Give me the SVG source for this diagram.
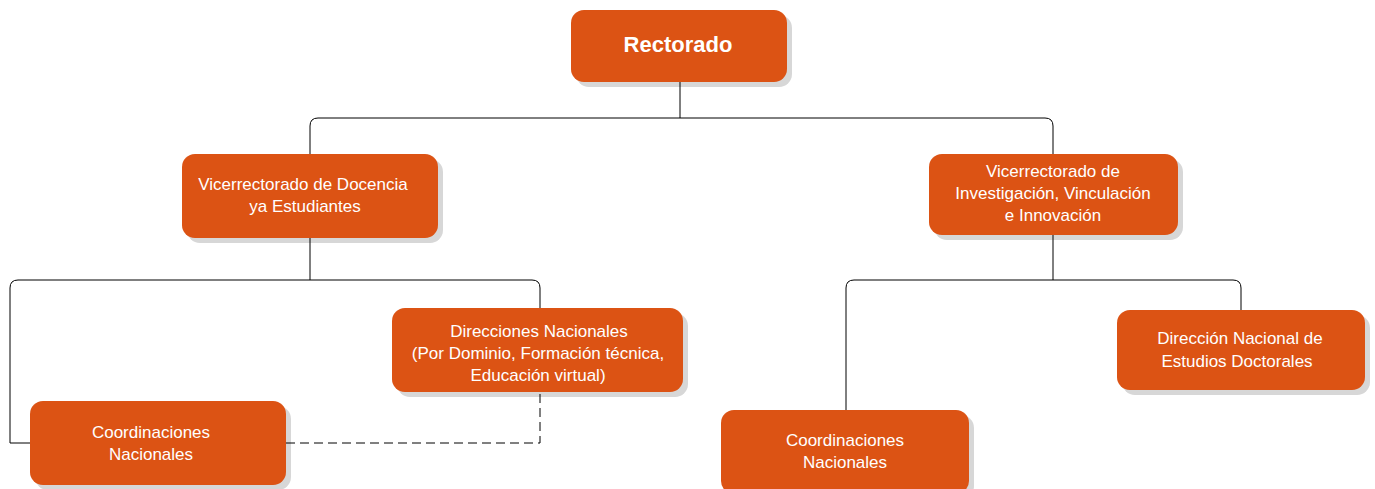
<svg xmlns="http://www.w3.org/2000/svg" width="1375" height="489" viewBox="0 0 1375 489">
<style>
.box{fill:#dc5314}
.sh{fill:#d7d7d7}
.t{font-family:"Liberation Sans",Arial,sans-serif;font-size:17px;fill:#fff;text-anchor:middle}
.tb{font-family:"Liberation Sans",Arial,sans-serif;font-size:22px;font-weight:bold;fill:#fff;text-anchor:middle}
.c{fill:none;stroke:#000;stroke-width:1}
.d{fill:none;stroke:#000;stroke-width:1;stroke-dasharray:9,5}
</style>
<rect width="1375" height="489" fill="#fff"/>
<g id="rectorado">
<rect class="sh" x="576" y="15" width="216" height="72" rx="13"/>
<rect class="box" x="571" y="10" width="216" height="72" rx="13"/>
<text class="tb" x="678" y="52">Rectorado</text>
</g>
<g id="vice-docencia">
<rect class="sh" x="187" y="159" width="256" height="84" rx="13"/>
<rect class="box" x="182" y="154" width="256" height="84" rx="13"/>
<text class="t" x="303" y="190">Vicerrectorado de Docencia</text>
<text class="t" x="305" y="212">ya Estudiantes</text>
</g>
<g id="vice-investigacion">
<rect class="sh" x="934" y="159" width="249" height="81" rx="13"/>
<rect class="box" x="929" y="154" width="249" height="81" rx="13"/>
<text class="t" x="1053" y="177">Vicerrectorado de</text>
<text class="t" x="1053" y="199">Investigación, Vinculación</text>
<text class="t" x="1053" y="221">e Innovación</text>
</g>
<g id="direcciones-nacionales">
<rect class="sh" x="397" y="313" width="291" height="84" rx="13"/>
<rect class="box" x="392" y="308" width="291" height="84" rx="13"/>
<text class="t" x="539" y="337">Direcciones Nacionales</text>
<text class="t" x="538" y="359">(Por Dominio, Formación técnica,</text>
<text class="t" x="538" y="381">Educación virtual)</text>
</g>
<g id="coordinaciones-izq">
<rect class="sh" x="35" y="406" width="256" height="84" rx="13"/>
<rect class="box" x="30" y="401" width="256" height="84" rx="13"/>
<text class="t" x="151" y="438">Coordinaciones</text>
<text class="t" x="151" y="460">Nacionales</text>
</g>
<g id="direccion-doctorales">
<rect class="sh" x="1122" y="315" width="248" height="80" rx="13"/>
<rect class="box" x="1117" y="310" width="248" height="80" rx="13"/>
<text class="t" x="1240" y="344">Dirección Nacional de</text>
<text class="t" x="1237" y="367">Estudios Doctorales</text>
</g>
<g id="coordinaciones-der">
<rect class="sh" x="726" y="415" width="248" height="84" rx="13"/>
<rect class="box" x="721" y="410" width="248" height="84" rx="13"/>
<text class="t" x="845" y="446">Coordinaciones</text>
<text class="t" x="845" y="468">Nacionales</text>
</g>
<g id="connectors">
<path class="c" d="M680,82 V118"/>
<path class="c" d="M310,154 V126 Q310,118 318,118 H1045 Q1053,118 1053,126 V154"/>
<path class="c" d="M310,238 V280"/>
<path class="c" d="M30,443 H10 V288 Q10,280 18,280 H532 Q540,280 540,288 V308"/>
<path class="d" d="M286,443 H540 V392"/>
<path class="c" d="M1053,235 V280"/>
<path class="c" d="M846,410 V288 Q846,280 854,280 H1233 Q1241,280 1241,288 V310"/>
</g>
</svg>
